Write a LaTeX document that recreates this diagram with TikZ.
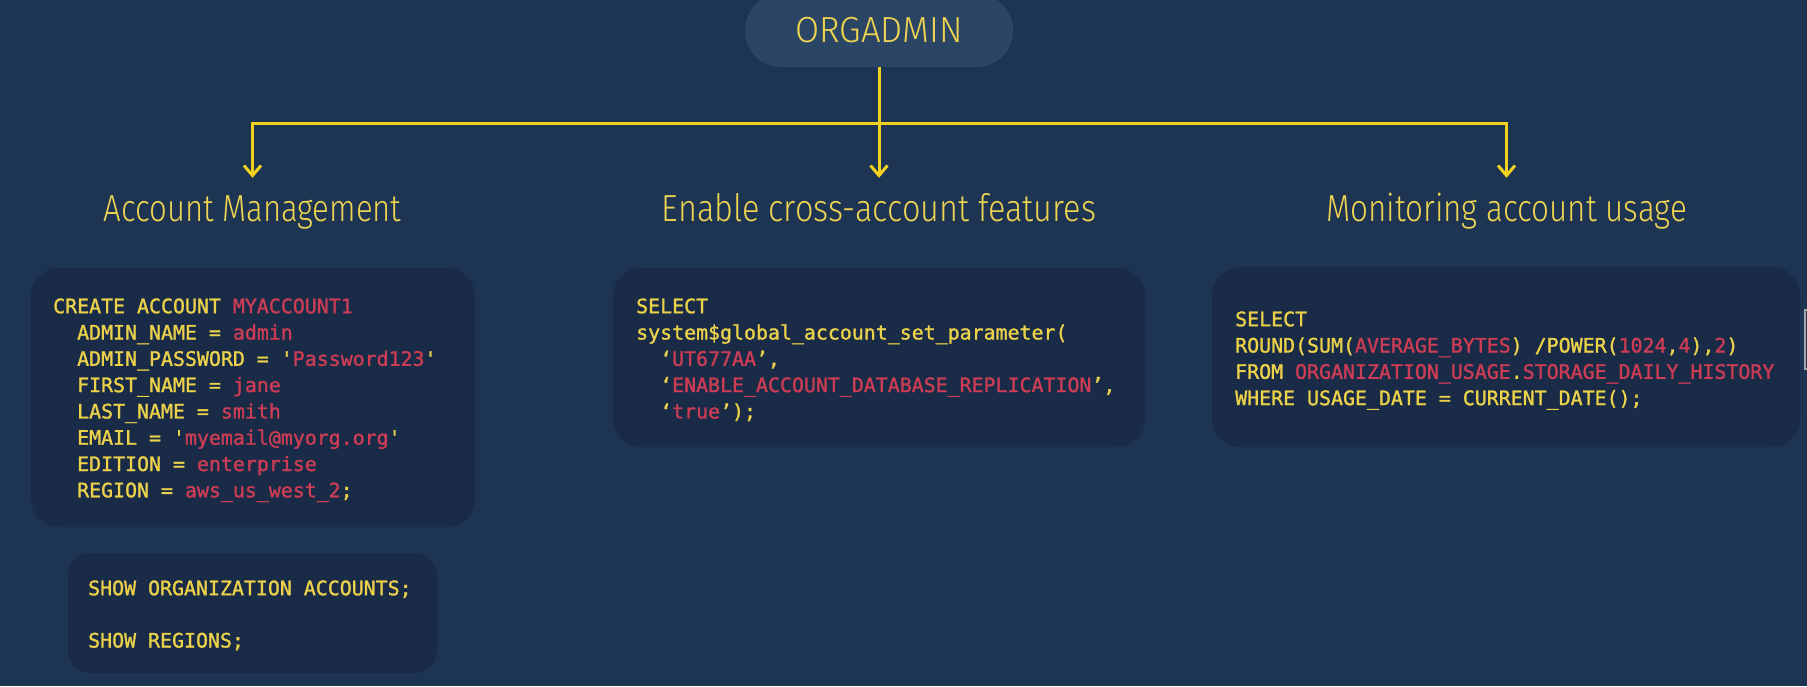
\documentclass[tikz,border=0pt]{standalone}
\usepackage{fontspec}
\usetikzlibrary{arrows.meta}
\newfontfamily\titlefont{Fira Sans}[UprightFont={* Light}]
\newfontfamily\codefont{DejaVu Sans Mono}[FakeBold=1.3]
\definecolor{bg}{HTML}{1D3453}
\definecolor{boxbg}{HTML}{192B47}
\definecolor{pillbg}{HTML}{2B4564}
\definecolor{titleyellow}{HTML}{EFD452}
\definecolor{codeyellow}{HTML}{ECD24A}
\definecolor{codered}{HTML}{CC3D55}
\definecolor{lineyellow}{HTML}{F3D21F}
\newcommand\cred[1]{\textcolor{codered}{#1}}
\newcommand\sq{\textquotesingle}
\tikzset{
  arr/.style={draw=lineyellow, line width=3pt, -{Straight Barb[length=10pt,width=17pt]}},
  title/.style={font=\titlefont\fontsize{37.7}{40}\selectfont, text=titleyellow, anchor=base, inner sep=0pt, text height=43pt},
  pill/.style={fill=pillbg, rounded corners=36pt, minimum width=268pt, minimum height=73pt, inner sep=0pt, text=titleyellow, font=\titlefont\fontsize{36.3}{38}\selectfont},
  codebox/.style={fill=boxbg, rounded corners=28pt, inner sep=0pt},
  code/.style={font=\codefont\fontsize{19.9}{26.3}\selectfont, text=codeyellow, align=left, inner sep=0pt, anchor=north west}
}
\begin{document}
\begin{tikzpicture}[x=1pt,y=-1pt]
\useasboundingbox (0,0) rectangle (1807,686);
\fill[bg] (0,0) rectangle (1807,686);
% top node
\node[pill] (org) at (879,30.5) {\scalebox{0.96}[1]{ORGADMIN}};
% titles
\node[title] (t1) at (252.5,221) {\scalebox{0.825}[1]{Account Management}};
\node[title] (t2) at (879,221) {\scalebox{0.86}[1]{Enable cross-account features}};
\node[title] (t3) at (1506.5,221) {\scalebox{0.833}[1]{Monitoring account usage}};
% connectors
\coordinate (j) at (879,123);
\draw[arr] (org.south) -- (t2.north);
\draw[arr] (j) -| (t1.north);
\draw[arr] (j) -| (t3.north);
% code boxes
\node[codebox, minimum width=444pt, minimum height=259pt] (b1) at (253,397.5) {};
\node[codebox, rounded corners=22pt, minimum width=369pt, minimum height=120pt] (b2) at (252.5,613) {};
\node[codebox, minimum width=532pt, minimum height=179pt] (b3) at (879,357.5) {};
\node[codebox, minimum width=588pt, minimum height=180pt] (b4) at (1506,357) {};
% code texts
\node[code] (c1) at (53,297) {\rule{0pt}{16pt}CREATE ACCOUNT \cred{MYACCOUNT1}\\
\ \ ADMIN\_NAME = \cred{admin}\\
\ \ ADMIN\_PASSWORD = \sq\cred{Password123}\sq\\
\ \ FIRST\_NAME = \cred{jane}\\
\ \ LAST\_NAME = \cred{smith}\\
\ \ EMAIL = \sq\cred{myemail@myorg.org}\sq\\
\ \ EDITION = \cred{enterprise}\\
\ \ REGION = \cred{aws\_us\_west\_2};};
\node[code] (c2) at (88,579) {\rule{0pt}{16pt}SHOW ORGANIZATION ACCOUNTS;\\[26pt]
SHOW REGIONS;};
\node[code] (c3) at (636,297) {\rule{0pt}{16pt}SELECT\\
system\$global\_account\_set\_parameter(\\
\ \ ‘\cred{UT677AA}’,\\
\ \ ‘\cred{ENABLE\_ACCOUNT\_DATABASE\_REPLICATION}’,\\
\ \ ‘\cred{true}’);};
\node[code] (c4) at (1235,310) {\rule{0pt}{16pt}SELECT\\
ROUND(SUM(\cred{AVERAGE\_BYTES}) /POWER(\cred{1024},\cred{4}),\cred{2})\\
FROM \cred{ORGANIZATION\_USAGE}.\cred{STORAGE\_DAILY\_HISTORY}\\
WHERE USAGE\_DATE = CURRENT\_DATE();};
% edge artifact
\draw[gray!70, line width=1.2pt] (1808,310) -- (1805,310) -- (1805,369) -- (1808,369);
\end{tikzpicture}
\end{document}
